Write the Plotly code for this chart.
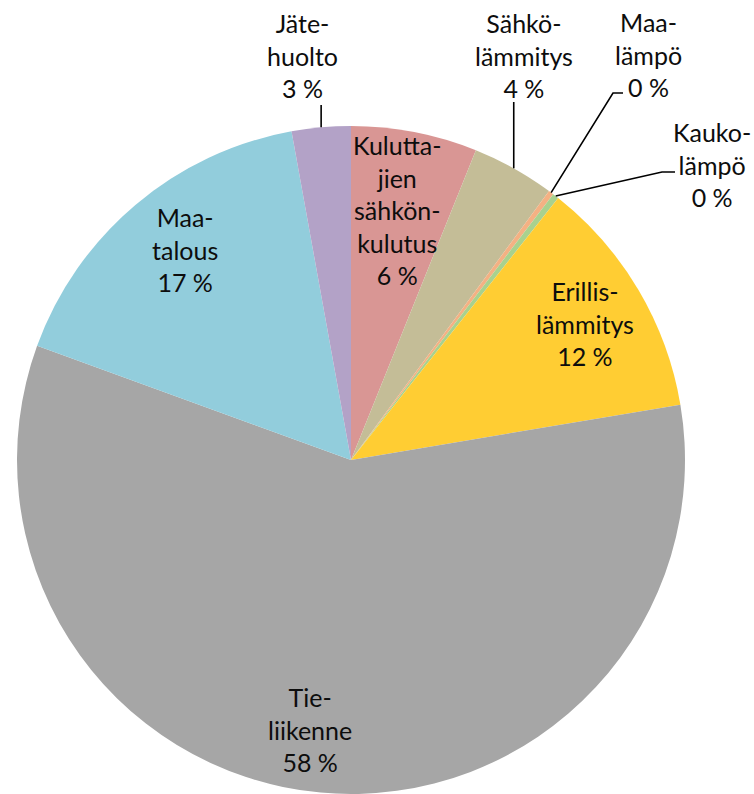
import math
import plotly.graph_objects as go

# ---- data ----
categories = ["Kuluttajien sähkönkulutus", "Sähkölämmitys", "Maalämpö", "Kaukolämpö",
              "Erillislämmitys", "Tieliikenne", "Maatalous", "Jätehuolto"]
label_names = ["Kulutta-<br>jien<br>sähkön-<br>kulutus", "Sähkö-<br>lämmitys", "Maa-<br>lämpö",
               "Kauko-<br>lämpö", "Erillis-<br>lämmitys", "Tie-<br>liikenne", "Maa-<br>talous",
               "Jäte-<br>huolto"]
values = [6.1, 4.0, 0.25, 0.3, 11.7, 58.2, 16.6, 2.85]

# ---- styles / layout ----
colors = ["#D99694", "#C4BD97", "#F4B183", "#A9D18E", "#FFCD33", "#A6A6A6", "#92CDDC", "#B3A2C7"]
W, H = 754, 794
CX, CY, R = 351, 460, 334          # pie centre / radius in pixels
# label centres in pixels (x, y from top)
label_xy = [(397, 210), (524, 55), (648, 54), (712, 165), (585, 323), (310, 729), (185, 250), (302, 55)]
# leader-line waypoints (after the slice-edge start point); None = no leader
leaders = [None, [("same", 102)], [(613, 93), (623, 93)], [(662, 172), (675, 172)],
           None, None, None, [("same", 105)]]

FONT = "Lato"
TXT = "#0d0d0d"

def px(x):
    return x / W

def py(y):
    return 1 - y / H

total = sum(values)
fig = go.Figure(go.Pie(
    labels=categories, values=values, sort=False, direction="clockwise", rotation=0,
    marker=dict(colors=colors, line=dict(width=0)),
    textinfo="none", hoverinfo="label+percent", showlegend=False,
    domain=dict(x=[px(CX - R), px(CX + R)], y=[py(CY + R), py(CY - R)]),
))

annotations = []
shapes = []
cum = 0.0
for i, v in enumerate(values):
    mid = (cum + v / 2) / total * 2 * math.pi
    cum += v
    pct = int(v / total * 100 + 0.5)
    lx, ly = label_xy[i]
    annotations.append(dict(
        x=px(lx), y=py(ly), xref="paper", yref="paper", showarrow=False,
        xanchor="center", yanchor="middle",
        text=f"{label_names[i]}<br>{pct} %", align="center",
        font=dict(family=FONT, size=25, color=TXT),
    ))
    if leaders[i]:
        sx = CX + R * math.sin(mid)
        sy = CY - R * math.cos(mid)
        pts = [(sx, sy)]
        for (a, b) in leaders[i]:
            pts.append((sx if a == "same" else a, b))
        path = "M " + " L ".join(f"{px(a):.5f},{py(b):.5f}" for a, b in pts)
        shapes.append(dict(type="path", path=path, xref="paper", yref="paper",
                           line=dict(color="black", width=1.6)))

fig.update_layout(
    width=W, height=H, margin=dict(l=0, r=0, t=0, b=0),
    paper_bgcolor="white", plot_bgcolor="white",
    annotations=annotations, shapes=shapes,
)
fig.write_html("out.html", config={"displayModeBar": False},
               post_script="document.body.style.margin='0';")
